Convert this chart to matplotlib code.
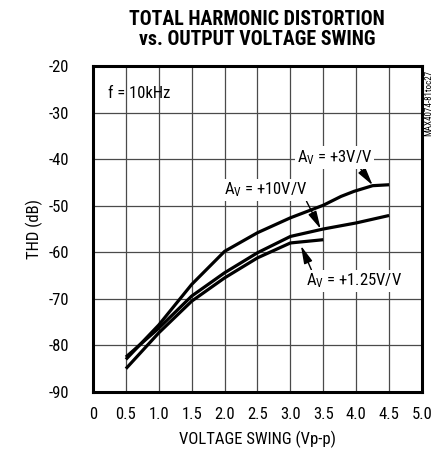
import matplotlib.pyplot as plt
import numpy as np

COND = ['Roboto Condensed', 'Archivo Narrow', 'Sofia Sans Condensed', 'Liberation Sans', 'DejaVu Sans']
plt.rcParams['font.family'] = COND
plt.rcParams['mathtext.fontset'] = 'custom'
plt.rcParams['mathtext.rm'] = COND[0]
plt.rcParams['axes.unicode_minus'] = False

# THD vs output voltage swing
swing_3 = [0.5, 1.0, 1.5, 2.0, 2.5, 3.0, 3.5, 3.77, 3.97, 4.25, 4.5]
thd_3 = [-83.0, -75.6, -66.9, -59.8, -55.8, -52.6, -49.9, -48.0, -46.9, -45.7, -45.5]

swing_10 = [0.5, 1.0, 1.5, 2.0, 2.5, 3.0, 3.5, 4.0, 4.5]
thd_10 = [-82.5, -76.3, -69.4, -64.4, -60.1, -56.6, -55.0, -53.7, -52.1]

swing_125 = [0.5, 1.0, 1.5, 2.0, 2.5, 3.0, 3.5]
thd_125 = [-85.0, -77.3, -70.5, -65.5, -61.2, -58.0, -57.3]

x_ticks = [0, 0.5, 1.0, 1.5, 2.0, 2.5, 3.0, 3.5, 4.0, 4.5, 5.0]
x_tick_labels = ['0', '0.5', '1.0', '1.5', '2.0', '2.5', '3.0', '3.5', '4.0', '4.5', '5.0']
y_ticks = [-90, -80, -70, -60, -50, -40, -30, -20]


fig = plt.figure(figsize=(4.41, 4.53), dpi=100)
ax = fig.add_axes([0.2109, 0.1347, 0.746, 0.7196])

ax.set_xlim(0, 5)
ax.set_ylim(-90, -20)
ax.set_xticks(x_ticks)
ax.set_xticklabels(x_tick_labels)
ax.set_yticks(y_ticks)
ax.tick_params(length=0, labelsize=12, colors='black')
ax.tick_params(axis='y', pad=17)
ax.tick_params(axis='x', pad=11)
ax.grid(True, color='#4a4a4a', linewidth=0.9)
ax.set_axisbelow(True)
for s in ax.spines.values():
    s.set_linewidth(2.2)

ax.plot(swing_3, thd_3, color='black', lw=2.3, solid_capstyle='butt', zorder=3)
ax.plot(swing_10, thd_10, color='black', lw=2.3, solid_capstyle='butt', zorder=3)
ax.plot(swing_125, thd_125, color='black', lw=2.3, solid_capstyle='butt', zorder=3)

ax.set_xlabel('VOLTAGE SWING (Vp-p)', fontsize=12, labelpad=6)
ax.set_ylabel('THD (dB)', fontsize=12, labelpad=4)

fig.text(0.5835, 0.979, 'TOTAL HARMONIC DISTORTION\nvs. OUTPUT VOLTAGE SWING',
         ha='center', va='top', fontsize=14.3, fontweight='heavy', linespacing=1.08)

ax.text(0.23, -25.8, 'f = 10kHz', fontsize=12, ha='left', va='center')

box = dict(facecolor='white', edgecolor='none', pad=1.5)


def arrow_props(relpos):
    return dict(arrowstyle='-|>,head_length=0.9,head_width=0.22', color='black',
                lw=1.0, shrinkA=0, shrinkB=0, relpos=relpos)


ax.annotate(r'$\mathregular{A_V}$ = +3V/V', xy=(4.25, -45.6), xytext=(3.67, -39.7),
            fontsize=12, ha='center', va='center', bbox=box,
            arrowprops=arrow_props((0.83, 0.0)), zorder=4)
ax.annotate(r'$\mathregular{A_V}$ = +10V/V', xy=(3.46, -55.0), xytext=(2.62, -46.6),
            fontsize=12, ha='center', va='center', bbox=box,
            arrowprops=arrow_props((0.98, 0.0)), zorder=4)
ax.annotate(r'$\mathregular{A_V}$ = +1.25V/V', xy=(3.16, -58.6), xytext=(3.96, -66.2),
            fontsize=12, ha='center', va='center', bbox=box,
            arrowprops=arrow_props((0.07, 1.0)), zorder=4)

fig.text(0.972, 0.772, 'MAX4074-81toc27', rotation=90, fontsize=6.5, ha='center', va='center')

fig.savefig('out.png', dpi=100)
plt.close()
